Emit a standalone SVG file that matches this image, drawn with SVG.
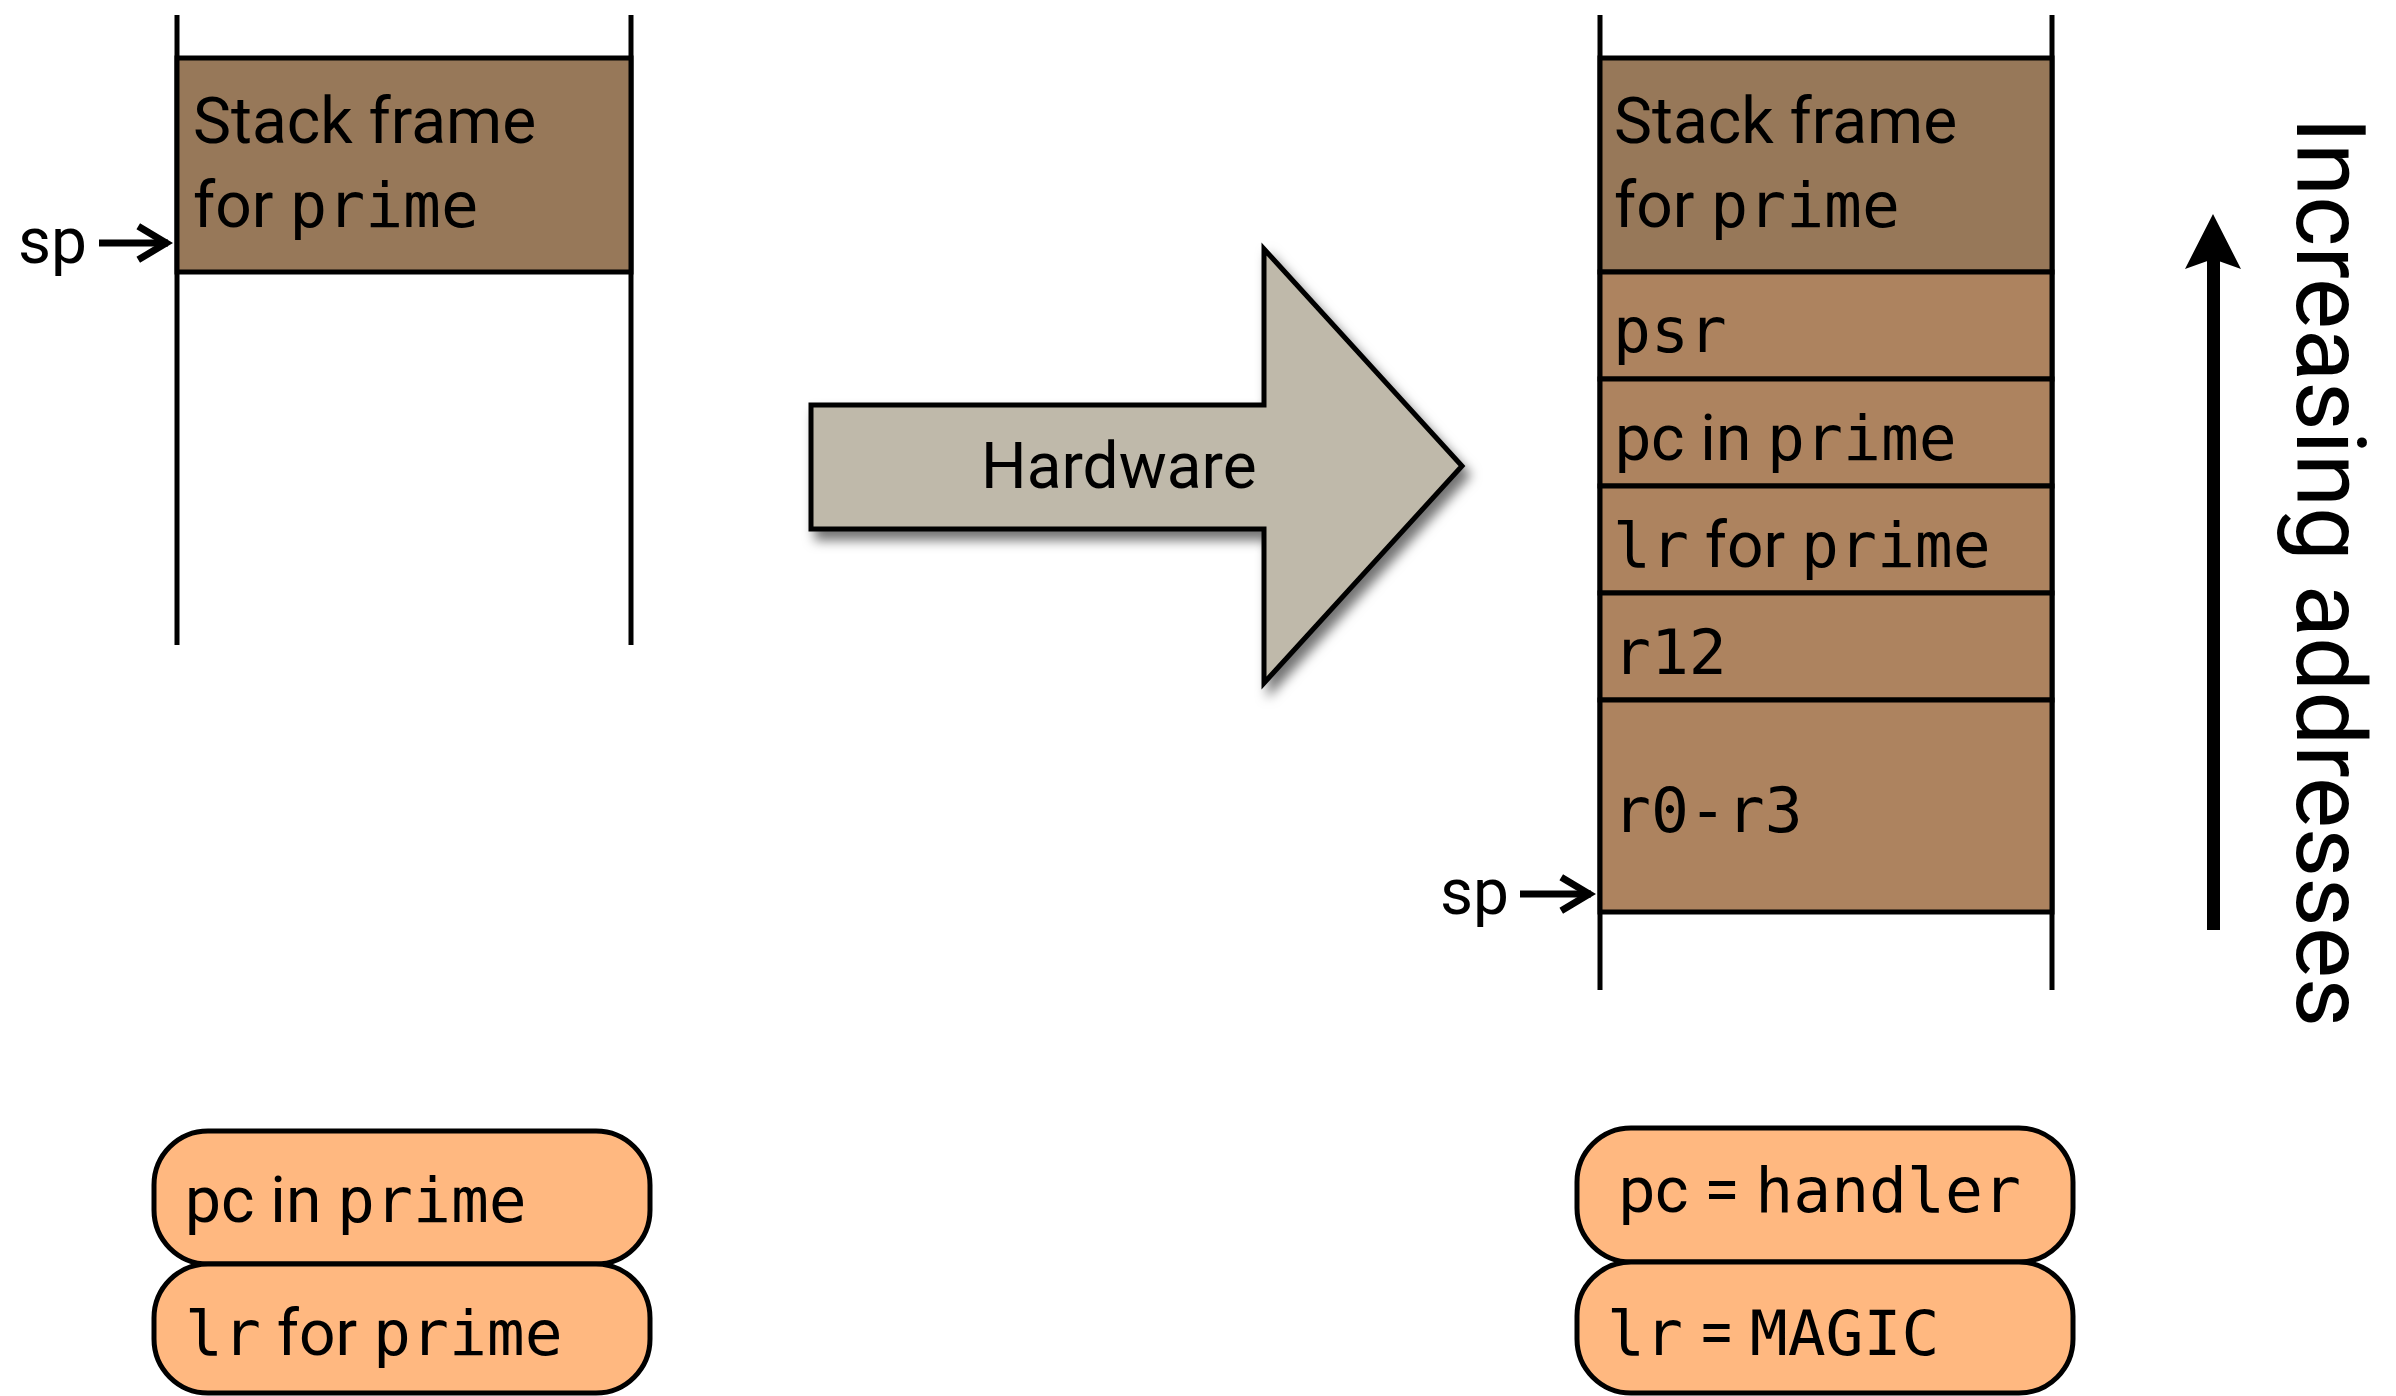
<svg xmlns="http://www.w3.org/2000/svg" width="2396" height="1396" viewBox="0 0 2396 1396">
<style>
.rail{stroke:#000;stroke-width:5;fill:none}
.frame{fill:#977859;stroke:#000;stroke-width:5}
.cell{fill:#ad835f;stroke:#000;stroke-width:5}
.pill{fill:#ffb880;stroke:#000;stroke-width:5}
.t{font-family:Roboto,"Liberation Sans",sans-serif;font-size:64px;fill:#000}
.m{font-family:"DejaVu Sans Mono","Liberation Mono",monospace;font-size:63px}
.ptr{stroke:#000;stroke-width:7;fill:none;marker-end:url(#chev)}
</style>
<defs>
<marker id="chev" viewBox="0 0 12 12" refX="10.5" refY="6" markerWidth="6" markerHeight="6" orient="auto" markerUnits="strokeWidth">
<path d="M2,1.2 L10,6 L2,10.8" fill="none" stroke="#000" stroke-width="2"/>
</marker>
<filter id="shadow" x="-10%" y="-10%" width="130%" height="130%">
<feDropShadow dx="6" dy="9" stdDeviation="6" flood-color="#000" flood-opacity="0.55"/>
</filter>
</defs>
<rect width="2396" height="1396" fill="#fff"/>

<g id="left-stack">
<line class="rail" x1="177" y1="15" x2="177" y2="645"/>
<line class="rail" x1="631" y1="15" x2="631" y2="645"/>
<rect class="frame" x="177" y="58" width="454" height="214"/>
<text class="t" x="193" y="143">Stack frame</text>
<text class="t" x="193" y="227">for <tspan class="m">prime</tspan></text>
</g>

<g id="hardware">
<polygon points="811,405 1264,405 1264,249 1462,466 1264,683 1264,529 811,529" fill="#bfb9aa" stroke="#000" stroke-width="5" filter="url(#shadow)"/>
<text class="t" x="981" y="488">Hardware</text>
</g>

<g id="right-stack">
<line class="rail" x1="1600" y1="15" x2="1600" y2="990"/>
<line class="rail" x1="2052" y1="15" x2="2052" y2="990"/>
<g id="cell-frame"><rect class="frame" x="1600" y="58" width="452" height="214"/>
<text class="t" x="1614" y="143">Stack frame</text>
<text class="t" x="1614" y="227">for <tspan class="m">prime</tspan></text></g>
<g id="cell-psr"><rect class="cell" x="1600" y="272" width="452" height="107"/>
<text class="t m" x="1613" y="352">psr</text></g>
<g id="cell-pc"><rect class="cell" x="1600" y="379" width="452" height="107"/>
<text class="t" x="1615" y="460">pc in <tspan class="m">prime</tspan></text></g>
<g id="cell-lr"><rect class="cell" x="1600" y="486" width="452" height="107"/>
<text class="t" x="1613" y="567"><tspan class="m">lr</tspan> for <tspan class="m">prime</tspan></text></g>
<g id="cell-r12"><rect class="cell" x="1600" y="593" width="452" height="107"/>
<text class="t m" x="1613" y="674">r12</text></g>
<g id="cell-r0r3"><rect class="cell" x="1600" y="700" width="452" height="212"/>
<text class="t m" x="1613" y="832">r0-r3</text></g>
</g>

<g id="sp-left"><text class="t" x="18" y="263">sp</text></g>
<g id="sp-right"><text class="t" x="1440" y="914">sp</text></g>

<g id="increasing-label">
<text class="t" style="font-size:96px" x="2297" y="117" transform="rotate(90 2297 117)">Increasing addresses</text>
</g>

<g id="regs-before">
<g id="pill-pc-before"><rect class="pill" x="154" y="1131" width="496" height="133" rx="54"/>
<text class="t" x="185" y="1222">pc in <tspan class="m">prime</tspan></text></g>
<g id="pill-lr-before"><rect class="pill" x="154" y="1264" width="496" height="129" rx="54"/>
<text class="t" x="185" y="1355"><tspan class="m">lr</tspan> for <tspan class="m">prime</tspan></text></g>
</g>

<g id="regs-after">
<g id="pill-pc-after"><rect class="pill" x="1577" y="1128" width="496" height="134" rx="54"/>
<text class="t" x="1619" y="1212">pc = <tspan class="m">handler</tspan></text></g>
<g id="pill-lr-after"><rect class="pill" x="1577" y="1262" width="496" height="131" rx="54"/>
<text class="t" x="1607" y="1355"><tspan class="m">lr</tspan> = <tspan class="m">MAGIC</tspan></text></g>
</g>

<g id="connectors">
<line class="ptr" x1="99" y1="243" x2="168" y2="243"/>
<line class="ptr" x1="1520" y1="894" x2="1591" y2="894"/>
<rect x="2207" y="255" width="13" height="675" fill="#000"/>
<polygon points="2213,214 2241,269 2213,259 2185,269" fill="#000"/>
</g>
</svg>
